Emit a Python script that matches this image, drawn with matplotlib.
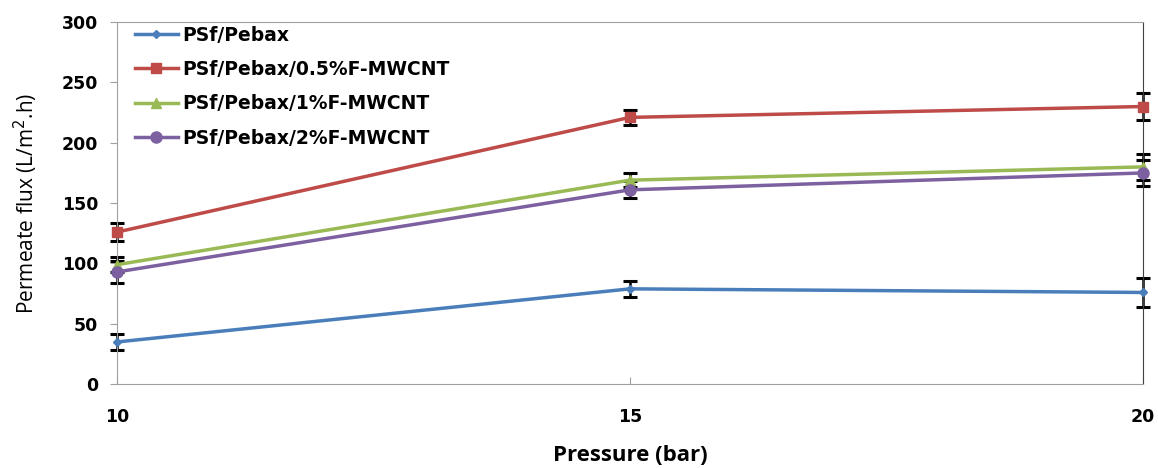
import numpy as np
import matplotlib
matplotlib.use("Agg")
import matplotlib.pyplot as plt

pressure = [10, 15, 20]

labels = [
    "PSf/Pebax",
    "PSf/Pebax/0.5%F-MWCNT",
    "PSf/Pebax/1%F-MWCNT",
    "PSf/Pebax/2%F-MWCNT",
]

flux_psf = [35, 79, 76]
flux_05 = [126, 221, 230]
flux_1 = [99, 169, 180]
flux_2 = [93, 161, 175]

err_psf = [7, 6.5, 12]
err_05 = [7.5, 6, 11]
err_1 = [6, 6, 11]
err_2 = [9, 7, 11]

colors = ["#4A7EBB", "#BE4B48", "#98B954", "#7D60A0"]
markers = ["D", "s", "^", "o"]
msizes = [4, 7, 7, 8]

plt.rcParams["font.family"] = ["Open Sans", "DejaVu Sans"]

fig = plt.figure(figsize=(11.58, 4.68), dpi=100)
ax = fig.add_axes([0.101, 0.179, 0.886, 0.774])

series = [flux_psf, flux_05, flux_1, flux_2]
errors = [err_psf, err_05, err_1, err_2]

for y, e, c, m, ms, lab in zip(series, errors, colors, markers, msizes, labels):
    eb = ax.errorbar(
        pressure, y, yerr=e, fmt="none",
        ecolor="black", elinewidth=1.8, capsize=5, capthick=2.2, zorder=2
    )
    for art in eb.lines[1] + eb.lines[2]:
        art.set_clip_on(False)
    ax.plot(pressure, y, color=c, marker=m, markersize=ms, linewidth=2.5,
            label=lab, zorder=3, clip_on=False)

ax.set_xlim(10, 20)
ax.set_ylim(0, 300)
ax.set_xticks([10, 15, 20])
ax.set_yticks(np.arange(0, 301, 50))

for s in ["top", "left", "bottom"]:
    ax.spines[s].set_color("#a0a0a0")
ax.spines["right"].set_color("#404040")

ax.tick_params(axis="y", direction="out", length=5, color="#a0a0a0", pad=8.5)
ax.tick_params(axis="x", direction="in", length=5, color="#a0a0a0", pad=17)
for t in ax.get_xticklabels() + ax.get_yticklabels():
    t.set_fontfamily("DejaVu Sans")
    t.set_fontweight("bold")
    t.set_fontsize(12.5)

ax.set_ylabel("Permeate flux (L/m$^2$.h)", fontsize=15, labelpad=16)
ax.set_xlabel("Pressure (bar)", fontsize=16, fontweight="bold", labelpad=14)

leg = ax.legend(loc="upper left", bbox_to_anchor=(0.0175, 0.99),
                frameon=False, borderaxespad=0, borderpad=0,
                prop={"family": "DejaVu Sans", "weight": "bold", "size": 13.5},
                handlelength=2.3, handletextpad=0.2, labelspacing=0.82)

fig.savefig("out.png", dpi=100)
